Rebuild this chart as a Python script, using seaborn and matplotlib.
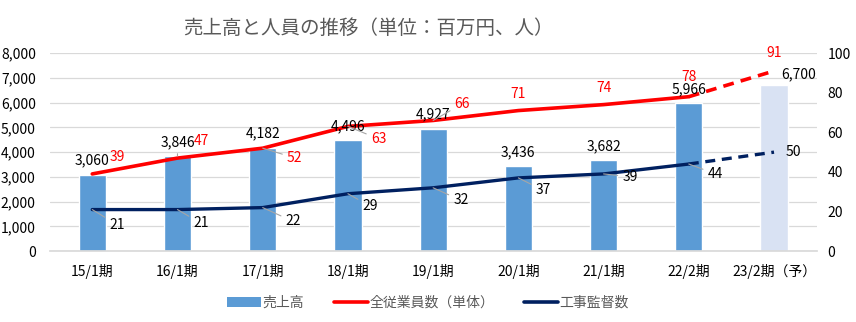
import matplotlib
matplotlib.use("Agg")
import matplotlib.pyplot as plt
import seaborn as sns
import pandas as pd
from matplotlib.lines import Line2D
from matplotlib.patches import Patch

sns.set_theme(style="white")
plt.rcParams['font.family'] = ['Noto Sans CJK JP', 'DejaVu Sans']

# ---- data ----
periods = ["15/1期", "16/1期", "17/1期", "18/1期", "19/1期", "20/1期", "21/1期", "22/2期", "23/2期（予）"]
sales = [3060, 3846, 4182, 4496, 4927, 3436, 3682, 5966, 6700]
employees = [39, 47, 52, 63, 66, 71, 74, 78, 91]
supervisors = [21, 21, 22, 29, 32, 37, 39, 44, 50]
left_ticks = [0, 1000, 2000, 3000, 4000, 5000, 6000, 7000, 8000]
right_ticks = [0, 20, 40, 60, 80, 100]

# label offsets in points (dx, dy; positive dy is up) and leader-line flags
sales_off = [(0, 11), (0, 10), (0, 10), (0, 10), (0, 11), (0, 10), (0, 10), (0, 10), (18, 8)]
sales_lead = [False, True, False, False, False, False, False, False, False]
emp_off = [(18, 12), (17, 12), (23, -7), (22, -9), (21, 12), (0, 12), (0, 12), (0, 14), (0, 13)]
emp_lead = [False, False, True, True, True, False, False, False, False]
sup_off = [(18, -11), (17, -10), (22, -10), (16, -9), (20, -9), (18, -9), (19, -2), (19, -7), (14, 0)]
sup_lead = [True, True, True, True, True, True, True, True, False]

BAR = "#5B9BD5"
BAR_FC = "#D9E2F3"
RED = "#FF0000"
NAVY = "#002060"
GRID = "#D9D9D9"
LEAD = "#A6A6A6"

df = pd.DataFrame({"period": periods, "sales": sales})
n = len(periods)
idx = list(range(n))

fig = plt.figure(figsize=(8.56, 3.22), dpi=100)
ax = fig.add_axes([0.058, 0.22, 0.896, 0.615])

bar_colors = [BAR] * (n - 1) + [BAR_FC]
sns.barplot(data=df, x="period", y="sales", hue="period", palette=bar_colors,
            legend=False, width=0.32, ax=ax, saturation=1)
ax.set_xlim(-0.5, n - 0.5)
ax.set_ylim(0, 8000)
ax.set_yticks(left_ticks)
ax.set_yticklabels([f"{v:,}" for v in left_ticks])
ax.set_xlabel("")
ax.set_ylabel("")
ax.yaxis.grid(True, color=GRID, lw=0.9)
ax.set_axisbelow(True)
for s in ["left", "right", "top"]:
    ax.spines[s].set_visible(False)
ax.spines["bottom"].set_color(GRID)
ax.tick_params(axis="y", length=0, pad=10, labelsize=10, colors="#000000")
ax.tick_params(axis="x", length=0, pad=9, labelsize=10, colors="#000000")

ax2 = ax.twinx()
ax2.set_ylim(0, 100)
ax2.set_yticks(right_ticks)
ax2.tick_params(axis="y", length=0, pad=8, labelsize=10, colors="#000000")
for s in ax2.spines.values():
    s.set_visible(False)
ax2.grid(False)

# actual results solid, forecast segment dashed
sns.lineplot(x=idx[:-1], y=employees[:-1], color=RED, lw=2.6, ax=ax2)
sns.lineplot(x=idx[-2:], y=employees[-2:], color=RED, lw=2.6, ax=ax2, linestyle=(0, (3, 2)))
sns.lineplot(x=idx[:-1], y=supervisors[:-1], color=NAVY, lw=2.4, ax=ax2)
sns.lineplot(x=idx[-2:], y=supervisors[-2:], color=NAVY, lw=2.4, ax=ax2, linestyle=(0, (3, 2)))
ax2.set_xlim(-0.5, n - 0.5)


def label(axis, x, y, text, off, lead, color):
    kw = {}
    if lead:
        kw["arrowprops"] = dict(arrowstyle="-", color=LEAD, lw=0.8, shrinkA=1, shrinkB=0)
    axis.annotate(text, xy=(x, y), xytext=off, textcoords="offset points",
                  ha="center", va="center", fontsize=10, color=color, **kw)


for i in idx:
    label(ax2, i, sales[i] / 80.0, f"{sales[i]:,}", sales_off[i], sales_lead[i], "#000000")
    label(ax2, i, employees[i], str(employees[i]), emp_off[i], emp_lead[i], RED)
    label(ax2, i, supervisors[i], str(supervisors[i]), sup_off[i], sup_lead[i], "#000000")

fig.text(0.43, 0.913, "売上高と人員の推移（単位：百万円、人）", ha="center", va="center",
         fontsize=14, color="#595959")

handles = [Patch(facecolor=BAR, edgecolor="none"),
           Line2D([], [], color=RED, lw=2.6),
           Line2D([], [], color=NAVY, lw=2.6)]
fig.legend(handles, ["売上高", "全従業員数（単体）", "工事監督数"], loc="center",
           bbox_to_anchor=(0.5, 0.06), ncol=3, frameon=False, fontsize=10,
           handlelength=2.4, handleheight=0.7, columnspacing=2.2, handletextpad=0.1,
           labelcolor="#595959")

fig.savefig("out.png", dpi=100)
